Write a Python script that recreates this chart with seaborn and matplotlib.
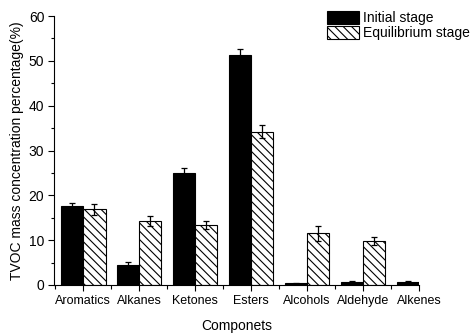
import pandas as pd
import seaborn as sns
from matplotlib import pyplot as plt
import matplotlib.ticker as ticker

# values
componets = ["Aromatics", "Alkanes", "Ketones", "Esters", "Alcohols", "Aldehyde", "Alkenes"]
initial = [17.6, 4.5, 25.0, 51.3, 0.4, 0.7, 0.7]
initial_err = [0.8, 0.6, 1.0, 1.3, 0.1, 0.1, 0.3]
equilibrium = [16.9, 14.2, 13.3, 34.2, 11.5, 9.9, 0.0]
equilibrium_err = [1.2, 1.1, 0.9, 1.5, 1.6, 0.9, 0.0]
stages = ["Initial stage", "Equilibrium stage"]

df = pd.DataFrame({
    "Componets": componets * 2,
    "Stage": [stages[0]] * len(componets) + [stages[1]] * len(componets),
    "Value": initial + equilibrium,
})

plt.rcParams["hatch.linewidth"] = 0.8
plt.rcParams["font.family"] = ["Liberation Sans", "DejaVu Sans"]

fig = plt.figure(figsize=(4.71, 3.35), dpi=100)
ax = fig.add_axes([54 / 471, 1 - 285 / 335, (419 - 54) / 471, (285 - 16) / 335])

sns.barplot(data=df, x="Componets", y="Value", hue="Stage",
            palette=["black", "white"], saturation=1, errorbar=None,
            edgecolor="black", linewidth=0.8, width=0.8, ax=ax)

# hatch the equilibrium bars and put error bars on the bar centres
for container, hatch, errs in zip(ax.containers, ["", "\\\\\\\\"],
                                  [initial_err, equilibrium_err]):
    xs, ys = [], []
    for bar in container:
        bar.set_hatch(hatch)
        xs.append(bar.get_x() + bar.get_width() / 2)
        ys.append(bar.get_height())
    ax.errorbar(xs, ys, yerr=errs, fmt="none", ecolor="black",
                elinewidth=0.9, capsize=2.5, capthick=0.9)

ax.get_legend().remove()
fig.legend(handles=list(ax.containers[:2]), labels=stages,
           loc="upper left", bbox_to_anchor=(327 / 471, 1 - 11 / 335),
           frameon=False, fontsize=10, borderpad=0, labelspacing=0.05,
           handlelength=2.3, handleheight=1.1, handletextpad=0.3,
           borderaxespad=0)

ax.set_xlim(-0.52, 6.0)
ax.set_ylim(0, 60)
ax.yaxis.set_major_locator(ticker.MultipleLocator(10))
ax.yaxis.set_minor_locator(ticker.MultipleLocator(5))
ax.xaxis.set_minor_locator(ticker.FixedLocator([i + 0.5 for i in range(-1, 6)]))

for side in ["top", "right"]:
    ax.spines[side].set_visible(False)
for side in ["left", "bottom"]:
    ax.spines[side].set_linewidth(0.8)

ax.tick_params(which="major", direction="out", length=4, width=0.8)
ax.tick_params(which="minor", direction="out", length=2.5, width=0.8)
ax.tick_params(axis="x", which="major", labelsize=9)
ax.tick_params(axis="x", which="minor", length=3)
ax.tick_params(axis="y", which="major", labelsize=10, pad=3)

ax.set_xlabel("Componets", fontsize=10, labelpad=8)
ax.set_ylabel("TVOC mass concentration percentage(%)", fontsize=10, labelpad=3)

fig.savefig("out.png", dpi=100)
